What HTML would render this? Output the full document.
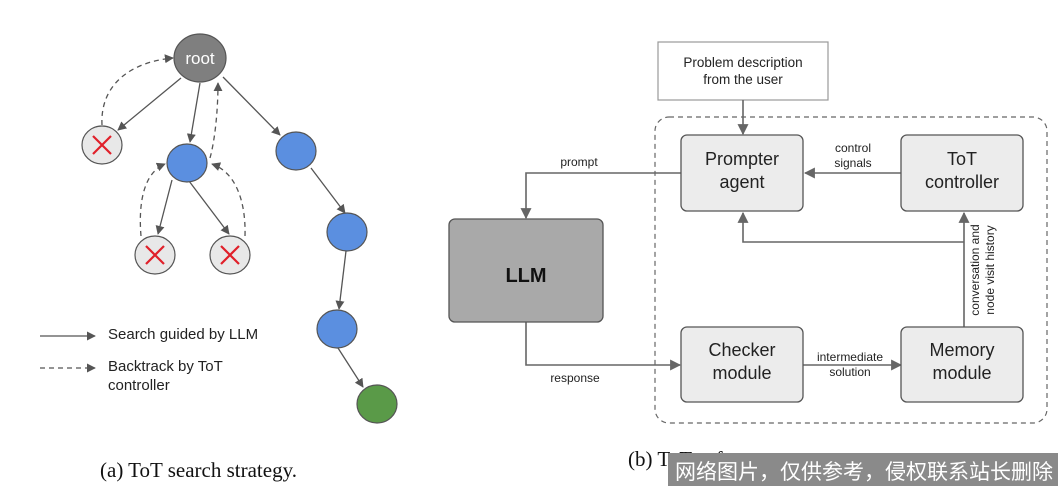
<!DOCTYPE html>
<html><head><meta charset="utf-8"><style>
html,body{margin:0;padding:0;background:#fff}
svg{display:block}
</style></head><body>
<svg width="1062" height="490" viewBox="0 0 1062 490" xmlns="http://www.w3.org/2000/svg" font-family="Liberation Sans, sans-serif">
<defs>
<marker id="a" viewBox="0 0 10 10" refX="9" refY="5" markerWidth="9" markerHeight="9" orient="auto" markerUnits="userSpaceOnUse"><path d="M0,0 L10,5 L0,10 z" fill="#555"/></marker>
<marker id="b" viewBox="0 0 10 10" refX="9" refY="5" markerWidth="11" markerHeight="11" orient="auto" markerUnits="userSpaceOnUse"><path d="M0,0 L10,5 L0,10 z" fill="#666"/></marker>
</defs>
<g stroke="#555" stroke-width="1.3" fill="none">
<line x1="181" y1="78" x2="118" y2="130" marker-end="url(#a)"/>
<line x1="200" y1="83" x2="190" y2="142" marker-end="url(#a)"/>
<line x1="223" y1="77" x2="280" y2="135" marker-end="url(#a)"/>
<line x1="172" y1="180" x2="158" y2="234" marker-end="url(#a)"/>
<line x1="189" y1="181" x2="229" y2="234" marker-end="url(#a)"/>
<line x1="311" y1="168" x2="345" y2="213" marker-end="url(#a)"/>
<line x1="346" y1="251" x2="339" y2="309" marker-end="url(#a)"/>
<line x1="338" y1="348" x2="363" y2="387" marker-end="url(#a)"/>
<g stroke-dasharray="5,4">
<path d="M102,125 C100,85 130,62 173,58" marker-end="url(#a)"/>
<path d="M141,236 C138,200 145,172 165,164" marker-end="url(#a)"/>
<path d="M245,236 C246,200 235,172 212,164" marker-end="url(#a)"/>
<path d="M210,158 C215,140 218,110 218,83" marker-end="url(#a)"/>
<line x1="40" y1="368" x2="95" y2="368" marker-end="url(#a)"/>
</g>
<line x1="40" y1="336" x2="95" y2="336" marker-end="url(#a)"/>
</g>
<ellipse cx="200" cy="58" rx="26" ry="24" fill="#7f7f7f" stroke="#555" stroke-width="1.2"/>
<text x="200" y="64" fill="#fff" font-size="17" text-anchor="middle">root</text>
<g fill="#e8e8e8" stroke="#555" stroke-width="1.2">
<ellipse cx="102" cy="145" rx="20" ry="19"/>
<ellipse cx="155" cy="255" rx="20" ry="19"/>
<ellipse cx="230" cy="255" rx="20" ry="19"/>
</g>
<g stroke="#e0202a" stroke-width="2.2">
<path d="M93,136 L111,154 M111,136 L93,154"/>
<path d="M146,246 L164,264 M164,246 L146,264"/>
<path d="M221,246 L239,264 M239,246 L221,264"/>
</g>
<g fill="#5b8fe0" stroke="#555" stroke-width="1.2">
<ellipse cx="187" cy="163" rx="20" ry="19"/>
<ellipse cx="296" cy="151" rx="20" ry="19"/>
<ellipse cx="347" cy="232" rx="20" ry="19"/>
<ellipse cx="337" cy="329" rx="20" ry="19"/>
</g>
<ellipse cx="377" cy="404" rx="20" ry="19" fill="#5a9a48" stroke="#555" stroke-width="1.2"/>
<g font-size="15" fill="#222">
<text x="108" y="339">Search guided by LLM</text>
<text x="108" y="371">Backtrack by ToT</text>
<text x="108" y="390">controller</text>
</g>
<text x="100" y="477" font-family="Liberation Serif, serif" font-size="21" fill="#111">(a) ToT search strategy.</text>

<rect x="655" y="117" width="392" height="306" rx="14" fill="none" stroke="#666" stroke-width="1.2" stroke-dasharray="5,4"/>
<rect x="658" y="42" width="170" height="58" fill="#fff" stroke="#999" stroke-width="1.2"/>
<text x="743" y="67" font-size="13.5" text-anchor="middle" fill="#222">Problem description</text>
<text x="743" y="84" font-size="13.5" text-anchor="middle" fill="#222">from the user</text>
<g stroke="#666" stroke-width="1.6" fill="none">
<line x1="743" y1="100" x2="743" y2="134" marker-end="url(#b)"/>
<polyline points="681,173 526,173 526,218" marker-end="url(#b)"/>
<line x1="901" y1="173" x2="805" y2="173" marker-end="url(#b)"/>
<line x1="964" y1="327" x2="964" y2="213" marker-end="url(#b)"/>
<polyline points="964,242 743,242 743,213" marker-end="url(#b)"/>
<polyline points="526,322 526,365 680,365" marker-end="url(#b)"/>
<line x1="803" y1="365" x2="901" y2="365" marker-end="url(#b)"/>
</g>
<g fill="#ececec" stroke="#555" stroke-width="1.3">
<rect x="681" y="135" width="122" height="76" rx="6"/>
<rect x="901" y="135" width="122" height="76" rx="6"/>
<rect x="681" y="327" width="122" height="75" rx="6"/>
<rect x="901" y="327" width="122" height="75" rx="6"/>
</g>
<rect x="449" y="219" width="154" height="103" rx="6" fill="#a9a9a9" stroke="#555" stroke-width="1.3"/>
<text x="526" y="282" font-size="20" font-weight="bold" text-anchor="middle" fill="#111">LLM</text>
<g font-size="18" text-anchor="middle" fill="#222">
<text x="742" y="165">Prompter</text>
<text x="742" y="188">agent</text>
<text x="962" y="165">ToT</text>
<text x="962" y="188">controller</text>
<text x="742" y="356">Checker</text>
<text x="742" y="379">module</text>
<text x="962" y="356">Memory</text>
<text x="962" y="379">module</text>
</g>
<g font-size="12" text-anchor="middle" fill="#222">
<text x="579" y="166">prompt</text>
<text x="853" y="152">control</text>
<text x="853" y="167">signals</text>
<text x="575" y="382">response</text>
<text x="850" y="361">intermediate</text>
<text x="850" y="376">solution</text>
<text transform="translate(979,270) rotate(-90)">conversation and</text>
<text transform="translate(994,270) rotate(-90)">node visit history</text>
</g>
<text x="628" y="466" font-family="Liberation Serif, serif" font-size="21" fill="#111">(b) ToT software system.</text>
<rect x="668" y="453" width="390" height="33" fill="#8a8a8a"/>
<text x="675" y="479" font-family="Liberation Sans, Noto Sans CJK SC, sans-serif" font-size="21" textLength="378" lengthAdjust="spacingAndGlyphs" fill="#fff">网络图片，仅供参考，侵权联系站长删除</text>
</svg>
</body></html>
